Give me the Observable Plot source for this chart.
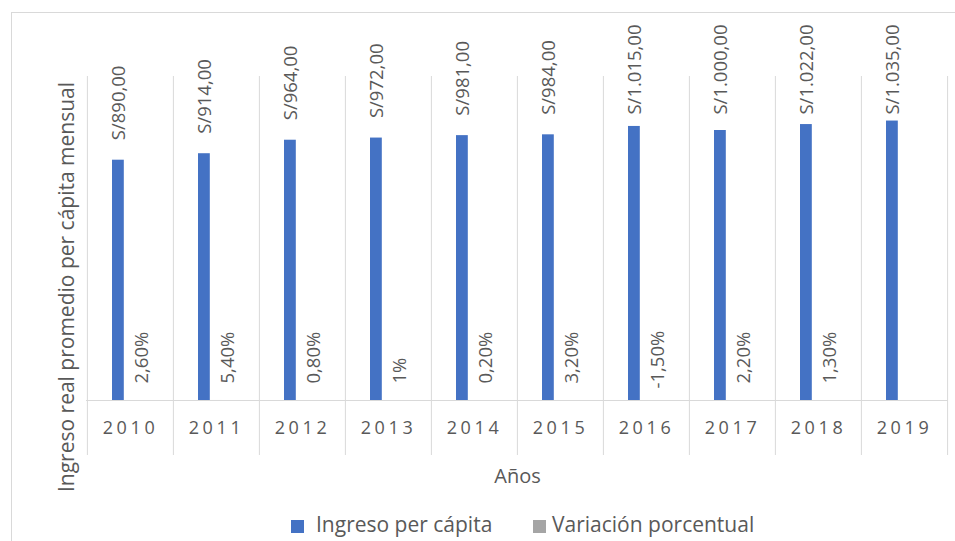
<!DOCTYPE html>
<html>
<head>
<meta charset="utf-8">
<script src="https://cdn.jsdelivr.net/npm/d3@7"></script>
<script src="https://cdn.jsdelivr.net/npm/@observablehq/plot@0.6"></script>
<style>
  html, body { margin: 0; padding: 0; background: #ffffff; }
  #wrap { position: relative; width: 955px; height: 541px; overflow: hidden; font-family: "Open Sans", sans-serif; }
  #frame { position: absolute; left: 11px; top: 12px; width: 2000px; height: 2000px; border-left: 1px solid #d9d9d9; border-top: 1px solid #d9d9d9; }
  #chart { position: absolute; left: 0; top: 0; }
  .leg { position: absolute; top: 514px; font-size: 21px; line-height: 20px; color: #595959; white-space: nowrap; }
  .sw { position: absolute; top: 520px; width: 13px; height: 13px; }
</style>
</head>
<body>
<div id="wrap">
  <div id="frame"></div>
  <div id="chart"></div>
  <div class="sw" style="left:291px; background:#4472C4;"></div>
  <div class="leg" style="left:316px;">Ingreso per cápita</div>
  <div class="sw" style="left:533px; background:#A5A5A5;"></div>
  <div class="leg" style="left:552px;">Variación porcentual</div>
</div>
<script>
const years = ["2010", "2011", "2012", "2013", "2014", "2015", "2016", "2017", "2018", "2019"];
const ingreso = [890, 914, 964, 972, 981, 984, 1015, 1000, 1022, 1035];
const variacion = [2.6, 5.4, 0.8, 1, 0.2, 3.2, -1.5, 2.2, 1.3, null];
const pctLabels = ["2,60%", "5,40%", "0,80%", "1%", "0,20%", "3,20%", "-1,50%", "2,20%", "1,30%", ""];
const yTitle = "Ingreso real promedio per cápita mensual";
const xTitle = "Años";

const locale = d3.formatLocale({decimal: ",", thousands: ".", grouping: [3], currency: ["S/", ""]});
const fmt = locale.format("$,.2f");

const rows = years.map((y, i) => ({
  year: y,
  ingreso: ingreso[i],
  variacion: variacion[i] == null ? null : variacion[i] / 100,
  pct: pctLabels[i]
}));
const withVar = rows.filter(d => d.variacion != null);

const grid = "#d9d9d9";
const txt = "#595959";
const half = 43.1;

const chart = Plot.plot({
  width: 955,
  height: 500,
  marginTop: 76,
  marginBottom: 100,
  marginLeft: 86,
  marginRight: 7,
  style: {fontFamily: "'Open Sans', sans-serif", color: txt, background: "transparent", overflow: "visible"},
  x: {domain: years, padding: 0, axis: null},
  y: {domain: [0, 1200], axis: null},
  marks: [
    Plot.ruleX(years, {x: d => d, dx: -half, stroke: grid, insetBottom: -55}),
    Plot.ruleX([years[years.length - 1]], {x: d => d, dx: half, stroke: grid, insetBottom: -55}),
    Plot.ruleY([0], {stroke: grid}),
    Plot.barY(rows, {x: "year", y: "ingreso", fill: "#4472C4", insetLeft: 25, insetRight: 49.2}),
    Plot.barY(withVar, {x: "year", y: "variacion", fill: "#A5A5A5", insetLeft: 37, insetRight: 37.2}),
    Plot.text(rows, {
      x: "year", y: d => Math.min(d.ingreso, 985), text: d => fmt(d.ingreso),
      rotate: -90, textAnchor: "start", dx: -11, dy: -20, fontSize: 18.5, fill: txt
    }),
    Plot.text(withVar.filter(d => d.variacion >= 0), {
      x: "year", y: "variacion", text: "pct",
      rotate: -90, textAnchor: "start", dx: 12, dy: -17, fontSize: 18.5, fill: txt
    }),
    Plot.text(withVar.filter(d => d.variacion < 0), {
      x: "year", y: "variacion", text: "pct",
      rotate: -90, textAnchor: "start", dx: 12, dy: -12, fontSize: 18.5, fill: txt
    }),
    Plot.text(years, {x: d => d, text: d => d, frameAnchor: "bottom", lineAnchor: "middle", dy: 27.5, fontSize: 18, fill: txt}),
    Plot.text([xTitle], {frameAnchor: "bottom", lineAnchor: "middle", textAnchor: "middle", dy: 76, fontSize: 20, fill: txt}),
    Plot.text([yTitle], {frameAnchor: "left", textAnchor: "middle", lineAnchor: "middle", rotate: -90, dx: -19.5, dy: 48.5, fontSize: 21, fill: txt})
  ]
});

d3.select(chart).selectAll("text")
  .filter(function() { return years.includes(this.textContent); })
  .style("letter-spacing", "3.6px");

document.getElementById("chart").appendChild(chart);
</script>
</body>
</html>
